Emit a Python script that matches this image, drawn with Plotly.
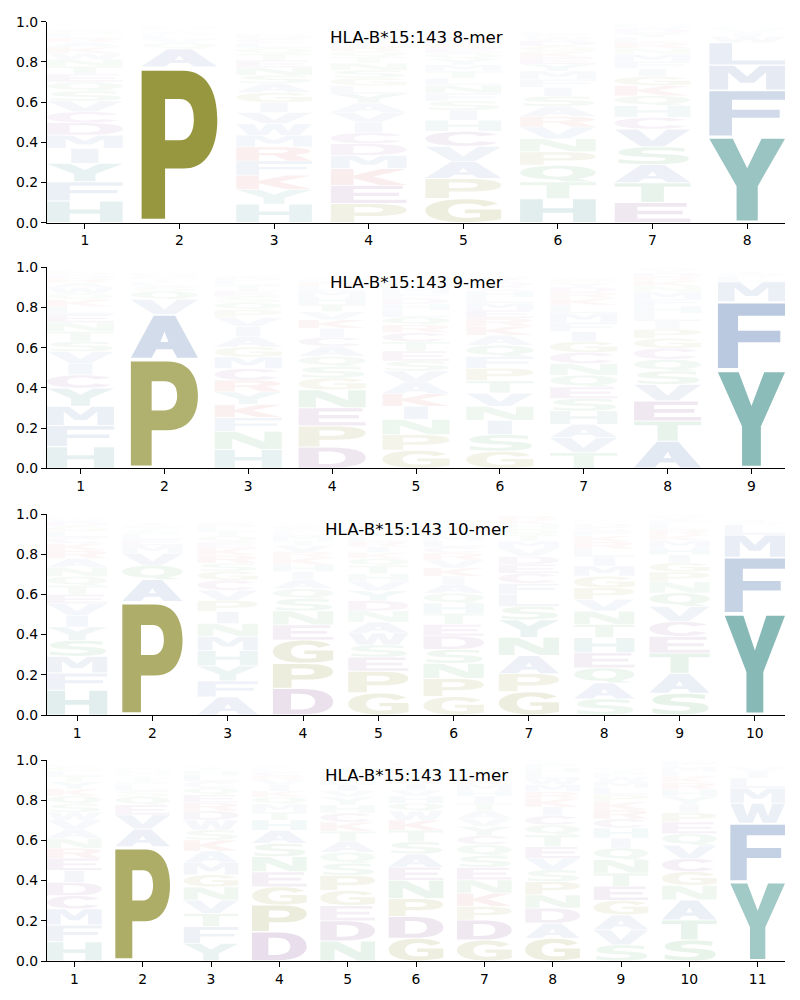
import re
import plotly.graph_objects as go

# ---------------- data ----------------
TITLES = ["HLA-B*15:143 8-mer", "HLA-B*15:143 9-mer", "HLA-B*15:143 10-mer", "HLA-B*15:143 11-mer"]

letters_8mer = [
    "HFYIMDCVSQETNWKARLGP",
    "PAQVLSTFM",
    "HYKFRMWVIGASNETQLCDP",
    "PEKMDCIVAYLGSNTQRFHW",
    "GPAVCHISFNLTMYQEKDRW",
    "HTQPNVRASIFMYEKGDWCL",
    "ETASVCHQKGIFMNRLYDWP",
    "YFMLWIVHC",
]
heights_8mer = [
    [.108, .096, .091, .075, .066, .061, .055, .053, .05, .045, .04, .038, .035, .03, .03, .025, .022, .02, .015, .01],
    [.775, .09, .03, .02, .018, .016, .012, .01, .008],
    [.093, .073, .071, .07, .07, .058, .058, .055, .05, .05, .045, .04, .04, .035, .032, .03, .025, .02, .015, .01],
    [.096, .09, .083, .066, .058, .055, .05, .05, .048, .045, .04, .04, .038, .035, .03, .03, .028, .025, .02, .01],
    [.12, .1, .085, .075, .075, .055, .05, .045, .04, .04, .035, .035, .03, .03, .028, .025, .022, .02, .015, .01],
    [.12, .083, .083, .066, .066, .058, .053, .05, .05, .045, .04, .04, .035, .032, .03, .028, .025, .02, .015, .012],
    [.1, .099, .09, .089, .088, .058, .058, .05, .05, .045, .04, .035, .035, .03, .03, .025, .022, .02, .015, .01],
    [.428, .232, .124, .112, .03, .02, .015, .01, .008],
]

letters_9mer = [
    "HFMYCIVSTNELKQWARDGP",
    "PAVQSLTEGM",
    "HNFKYRCMGAIVPQSETLDW",
    "DPENGSQACIKVTHMLRFYW",
    "GPNIKAVSETCRQLHDFMYW",
    "GSINVTPFQAKREMLHCDYW",
    "TVAHSEQNCGIFMLKRDYPW",
    "ATEVSQCGPILHFMNKRDYW",
    "YFMLWI",
]
heights_9mer = [
    [.108, .105, .096, .09, .066, .058, .058, .05, .05, .045, .04, .038, .035, .03, .03, .025, .02, .018, .015, .01],
    [.545, .22, .075, .04, .025, .02, .015, .012, .01, .01],
    [.094, .09, .068, .066, .062, .058, .058, .058, .05, .05, .05, .045, .04, .035, .03, .03, .028, .022, .015, .01],
    [.106, .105, .09, .09, .058, .058, .05, .05, .045, .045, .042, .04, .038, .035, .03, .025, .02, .015, .01, .008],
    [.09, .078, .075, .066, .062, .058, .055, .05, .05, .045, .045, .04, .038, .035, .03, .03, .025, .025, .02, .012],
    [.085, .083, .07, .07, .066, .062, .062, .058, .056, .05, .045, .04, .04, .035, .03, .03, .025, .02, .02, .01],
    [.078, .075, .066, .066, .062, .058, .058, .058, .055, .055, .05, .045, .045, .04, .035, .03, .025, .02, .015, .01],
    [.135, .1, .1, .083, .066, .058, .055, .05, .045, .04, .04, .035, .035, .035, .03, .025, .02, .02, .015, .01],
    [.49, .338, .1, .025, .015, .01],
]

letters_10mer = [
    "HFMSYIVETQNARKCLGDWP",
    "PAQVMELSTFI",
    "AFYHMNIPVCGSRKEQTLDW",
    "DPGENSQAIHKRVTMLCFYW",
    "GPESWANDYVHTQKIRLMFC",
    "GPNSDETHQAIKVRCLMFYW",
    "GPANYSLFCEDVMTQHKR",
    "SAQEHTNVPGMILRKFCDYW",
    "SATECVQNPGIHMKRLFYDW",
    "YFMLWIV",
]
heights_10mer = [
    [.124, .085, .083, .08, .066, .058, .058, .045, .045, .045, .045, .045, .04, .035, .03, .03, .025, .02, .015, .01],
    [.564, .11, .07, .06, .04, .03, .025, .02, .015, .01, .01],
    [.09, .08, .075, .075, .07, .065, .06, .055, .05, .05, .045, .04, .04, .035, .03, .03, .025, .02, .015, .01],
    [.133, .124, .116, .075, .07, .06, .05, .045, .04, .035, .035, .03, .03, .025, .025, .02, .015, .012, .01, .008],
    [.11, .108, .07, .06, .06, .055, .055, .05, .05, .045, .04, .04, .035, .03, .03, .025, .025, .02, .02, .015],
    [.092, .09, .075, .07, .066, .058, .055, .05, .05, .045, .04, .04, .04, .035, .03, .03, .025, .02, .015, .01],
    [.116, .09, .09, .09, .088, .066, .06, .055, .05, .045, .04, .04, .035, .03, .03, .025, .02, .02],
    [.08, .08, .075, .075, .075, .066, .066, .058, .058, .058, .05, .045, .04, .035, .03, .025, .02, .015, .01, .008],
    [.108, .1, .1, .083, .075, .075, .066, .055, .05, .045, .04, .035, .035, .03, .025, .025, .02, .015, .01, .008],
    [.506, .279, .111, .05, .015, .01, .008],
]

letters_11mer = [
    "HFMCDIERNAVWSQKYTLGP",
    "PAVEQSLFTYMGK",
    "YFTVNGMAKSWDREQCLHIP",
    "DPGENSAHTMQKIVRCLFYW",
    "NDEGPSQATKCHYVILRMFW",
    "GDPNEASTKWQHVIRLCFYM",
    "GDPKNESQCYVATIHMRLFW",
    "GADNPSVETQCIKRMWLHFY",
    "SVAGETNQIHCRKPLMWFYD",
    "STANGCVQEPIYHRKLMFDW",
    "YFWMLIVH",
]
heights_11mer = [
    [.096, .083, .08, .066, .066, .06, .06, .05, .05, .045, .045, .04, .04, .04, .035, .035, .03, .025, .02, .01],
    [.569, .088, .07, .05, .04, .03, .025, .02, .02, .015, .015, .01, .01],
    [.088, .083, .066, .066, .066, .06, .06, .058, .055, .05, .05, .045, .04, .04, .035, .03, .03, .025, .015, .01],
    [.146, .133, .09, .075, .075, .066, .066, .05, .04, .04, .035, .03, .03, .025, .02, .02, .015, .01, .01, .005],
    [.1, .1, .076, .075, .075, .06, .055, .055, .05, .045, .045, .04, .04, .03, .03, .025, .02, .02, .015, .01],
    [.113, .108, .09, .09, .066, .066, .06, .058, .05, .045, .04, .035, .03, .03, .025, .025, .02, .015, .01, .01],
    [.104, .1, .068, .066, .066, .062, .058, .055, .045, .045, .04, .04, .035, .035, .03, .03, .025, .02, .015, .01],
    [.113, .075, .075, .066, .066, .058, .058, .058, .058, .05, .045, .045, .04, .035, .035, .03, .03, .025, .02, .015],
    [.08, .075, .075, .072, .07, .066, .066, .058, .05, .05, .045, .045, .04, .035, .035, .03, .025, .02, .015, .01],
    [.104, .1, .1, .072, .068, .066, .066, .058, .058, .045, .04, .04, .035, .035, .03, .025, .025, .02, .01, .008],
    [.395, .29, .1, .075, .05, .03, .02, .01],
]

LOGOS = [
    (letters_8mer, heights_8mer),
    (letters_9mer, heights_9mer),
    (letters_10mer, heights_10mer),
    (letters_11mer, heights_11mer),
]

# ---------------- glyph outlines (unit box) ----------------
GLYPHS = {
    "A": "M 0,0 L 0.34,1 L 0.66,1 L 1,0 L 0.69,0 L 0.62,0.2 L 0.38,0.2 L 0.31,0 Z "
         "M 0.44,0.37 L 0.56,0.37 L 0.5,0.62 Z",
    "C": "M 0.95,0.78 C 0.85,0.94 0.7,1 0.53,1 C 0.2,1 0,0.8 0,0.5 C 0,0.2 0.2,0 0.53,0 "
         "C 0.7,0 0.85,0.06 0.95,0.22 L 0.72,0.33 C 0.67,0.24 0.61,0.19 0.54,0.19 "
         "C 0.39,0.19 0.3,0.31 0.3,0.5 C 0.3,0.69 0.39,0.81 0.54,0.81 C 0.61,0.81 0.67,0.76 0.72,0.67 Z",
    "D": "M 0,0 L 0,1 L 0.45,1 C 0.8,1 1,0.82 1,0.5 C 1,0.18 0.8,0 0.45,0 Z "
         "M 0.3,0.19 L 0.42,0.19 C 0.61,0.19 0.7,0.3 0.7,0.5 C 0.7,0.7 0.61,0.81 0.42,0.81 L 0.3,0.81 Z",
    "E": "M 0,0 L 0,1 L 0.95,1 L 0.95,0.81 L 0.3,0.81 L 0.3,0.6 L 0.9,0.6 L 0.9,0.41 "
         "L 0.3,0.41 L 0.3,0.19 L 1,0.19 L 1,0 Z",
    "F": "M 0,0 L 0,1 L 1,1 L 1,0.81 L 0.3,0.81 L 0.3,0.58 L 0.93,0.58 L 0.93,0.4 L 0.3,0.4 L 0.3,0 Z",
    "G": "M 0.96,0.8 C 0.86,0.94 0.71,1 0.53,1 C 0.2,1 0,0.8 0,0.5 C 0,0.2 0.2,0 0.53,0 "
         "C 0.72,0 0.88,0.05 1,0.12 L 1,0.55 L 0.52,0.55 L 0.52,0.39 L 0.72,0.39 L 0.72,0.22 "
         "C 0.67,0.2 0.61,0.19 0.55,0.19 C 0.39,0.19 0.3,0.31 0.3,0.5 C 0.3,0.69 0.39,0.81 0.55,0.81 "
         "C 0.65,0.81 0.72,0.76 0.77,0.68 Z",
    "H": "M 0,0 L 0,1 L 0.3,1 L 0.3,0.61 L 0.7,0.61 L 0.7,1 L 1,1 L 1,0 L 0.7,0 L 0.7,0.41 "
         "L 0.3,0.41 L 0.3,0 Z",
    "I": "M 0.32,0 L 0.32,1 L 0.68,1 L 0.68,0 Z",
    "K": "M 0,0 L 0,1 L 0.3,1 L 0.3,0.6 L 0.66,1 L 1,1 L 0.56,0.53 L 1,0 L 0.65,0 L 0.3,0.42 L 0.3,0 Z",
    "L": "M 0,0 L 0,1 L 0.3,1 L 0.3,0.19 L 1,0.19 L 1,0 Z",
    "M": "M 0,0 L 0,1 L 0.33,1 L 0.5,0.55 L 0.67,1 L 1,1 L 1,0 L 0.75,0 L 0.75,0.72 L 0.59,0.28 "
         "L 0.41,0.28 L 0.25,0.72 L 0.25,0 Z",
    "N": "M 0,0 L 0,1 L 0.32,1 L 0.74,0.4 L 0.74,1 L 1,1 L 1,0 L 0.68,0 L 0.26,0.6 L 0.26,0 Z",
    "P": "M 0,0 L 0,1 L 0.55,1 C 0.86,1 1,0.86 1,0.67 C 1,0.48 0.86,0.34 0.55,0.34 L 0.31,0.34 L 0.31,0 Z "
         "M 0.31,0.53 L 0.5,0.53 C 0.63,0.53 0.69,0.59 0.69,0.67 C 0.69,0.76 0.63,0.81 0.5,0.81 L 0.31,0.81 Z",
    "Q": "M 0.5,1 C 0.82,1 1,0.8 1,0.56 C 1,0.37 0.9,0.23 0.76,0.17 L 0.96,0 L 0.6,0 L 0.49,0.12 "
         "C 0.18,0.13 0,0.32 0,0.56 C 0,0.8 0.18,1 0.5,1 Z "
         "M 0.5,0.82 C 0.37,0.82 0.3,0.72 0.3,0.56 C 0.3,0.4 0.37,0.3 0.5,0.3 C 0.63,0.3 0.7,0.4 0.7,0.56 "
         "C 0.7,0.72 0.63,0.82 0.5,0.82 Z",
    "R": "M 0,0 L 0,1 L 0.55,1 C 0.85,1 0.98,0.87 0.98,0.71 C 0.98,0.59 0.9,0.5 0.77,0.46 L 1,0 "
         "L 0.68,0 L 0.49,0.41 L 0.3,0.41 L 0.3,0 Z "
         "M 0.3,0.58 L 0.5,0.58 C 0.62,0.58 0.68,0.63 0.68,0.71 C 0.68,0.79 0.62,0.83 0.5,0.83 L 0.3,0.83 Z",
    "S": "M 0.92,0.95 C 0.8,0.99 0.65,1 0.52,1 C 0.2,1 0.05,0.86 0.05,0.7 C 0.05,0.52 0.2,0.46 0.45,0.42 "
         "C 0.62,0.39 0.68,0.36 0.68,0.3 C 0.68,0.23 0.6,0.18 0.47,0.18 C 0.32,0.18 0.18,0.22 0.05,0.3 "
         "L 0.05,0.07 C 0.2,0.02 0.35,0 0.5,0 C 0.82,0 0.98,0.12 0.98,0.32 C 0.98,0.5 0.85,0.56 0.58,0.6 "
         "C 0.4,0.63 0.35,0.65 0.35,0.71 C 0.35,0.78 0.42,0.82 0.55,0.82 C 0.67,0.82 0.8,0.79 0.92,0.74 Z",
    "T": "M 0,1 L 1,1 L 1,0.81 L 0.65,0.81 L 0.65,0 L 0.35,0 L 0.35,0.81 L 0,0.81 Z",
    "V": "M 0,1 L 0.31,1 L 0.5,0.32 L 0.69,1 L 1,1 L 0.66,0 L 0.34,0 Z",
    "W": "M 0,1 L 0.23,1 L 0.31,0.36 L 0.4,1 L 0.6,1 L 0.69,0.36 L 0.77,1 L 1,1 L 0.84,0 L 0.59,0 "
         "L 0.5,0.58 L 0.41,0 L 0.16,0 Z",
    "Y": "M 0,1 L 0.31,1 L 0.5,0.64 L 0.69,1 L 1,1 L 0.64,0.42 L 0.64,0 L 0.36,0 L 0.36,0.42 Z",
}

OLIVE = "rgb(125,125,15)"
TEAL = "rgb(40,130,125)"
BLUE = "rgb(70,110,170)"
PURPLE = "rgb(120,50,130)"
RED = "rgb(200,50,50)"
GREEN = "rgb(50,150,70)"
COLORS = {
    "P": OLIVE, "G": OLIVE,
    "Y": TEAL, "H": TEAL,
    "A": BLUE, "V": BLUE, "L": BLUE, "I": BLUE, "M": BLUE, "F": BLUE, "W": BLUE,
    "D": PURPLE, "E": PURPLE, "C": PURPLE,
    "K": RED, "R": RED,
    "N": GREEN, "Q": GREEN, "S": GREEN, "T": GREEN,
}

TOKEN = re.compile(r"[MLCQZ]|-?\d+\.?\d*")


def glyph_path(ch, xc, y0, h, w=0.8, vpad=0.025):
    toks = TOKEN.findall(GLYPHS[ch])
    x0 = xc - w / 2.0
    yb = y0 + vpad * h
    hh = h * (1 - 2 * vpad)
    out = []
    i = 0
    while i < len(toks):
        t = toks[i]
        if t in "MLCQZ":
            out.append(t)
            i += 1
        else:
            px, py = float(toks[i]), float(toks[i + 1])
            out.append(f"{x0 + px * w:.4f},{yb + py * hh:.4f}")
            i += 2
    return " ".join(out)


# ---------------- figure ----------------
FONT = "DejaVu Sans"
TOPS = [21.7, 267.3, 514.0, 760.0]
PLOT_H = 201.0
H = 1000.0

fig = go.Figure()
layout = dict(
    width=800, height=1000,
    margin=dict(l=47, r=15, t=0, b=0, autoexpand=False),
    paper_bgcolor="white", plot_bgcolor="white",
    showlegend=False,
    font=dict(family=FONT, size=13.9, color="black"),
)
shapes = []
annotations = []

for k, (letters, heights) in enumerate(LOGOS):
    n = len(letters)
    ax = "" if k == 0 else str(k + 1)
    top = TOPS[k]
    bot = top + PLOT_H
    layout["xaxis" + ax] = dict(
        domain=[0, 1], anchor="y" + ax, range=[0.6, n + 0.4], automargin=False,
        tickvals=list(range(1, n + 1)), ticktext=[str(i) for i in range(1, n + 1)],
        showline=True, linecolor="black", linewidth=1.1, ticks="outside", ticklen=5,
        tickwidth=1.1, tickcolor="black", showgrid=False, zeroline=False,
        tickfont=dict(family=FONT, size=13.9, color="black"), fixedrange=True,
    )
    layout["yaxis" + ax] = dict(
        domain=[1 - bot / H, 1 - top / H], anchor="x" + ax, range=[0, 1], automargin=False,
        tickvals=[0, 0.2, 0.4, 0.6, 0.8, 1.0],
        ticktext=["0.0", "0.2", "0.4", "0.6", "0.8", "1.0"],
        showline=True, linecolor="black", linewidth=1.1, ticks="outside", ticklen=5,
        tickwidth=1.1, tickcolor="black", showgrid=False, zeroline=False,
        tickfont=dict(family=FONT, size=13.9, color="black"), fixedrange=True,
    )
    # invisible trace so the axes are drawn
    fig.add_trace(go.Scatter(x=[1], y=[0], mode="markers", marker=dict(opacity=0),
                             xaxis="x" + ax, yaxis="y" + ax, hoverinfo="skip"))
    for pos in range(n):
        col = sorted(zip(letters[pos], heights[pos]), key=lambda t: -t[1])
        y0 = 0.0
        for ch, h in col:
            shapes.append(dict(
                type="path", xref="x" + ax, yref="y" + ax,
                path=glyph_path(ch, pos + 1, y0, h),
                fillcolor=COLORS[ch], opacity=min(0.8, 1.1 * h),
                line=dict(width=0), fillrule="evenodd", layer="above",
            ))
            y0 += h
    annotations.append(dict(
        text=TITLES[k], xref="x" + ax + " domain", yref="y" + ax + " domain",
        x=0.5, y=1 - 15 / PLOT_H, xanchor="center", yanchor="middle", showarrow=False,
        font=dict(family=FONT, size=16.7, color="black"),
    ))

layout["shapes"] = shapes
layout["annotations"] = annotations
fig.update_layout(**layout)
fig.write_html("out.html")
